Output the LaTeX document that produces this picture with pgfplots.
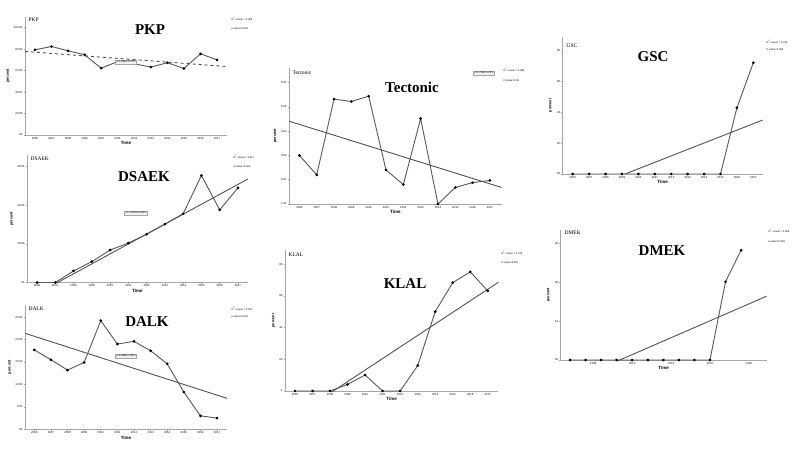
\documentclass[border=0pt]{standalone}
\usepackage{fontspec}
\setmainfont{Liberation Serif}
\setsansfont{Liberation Sans}
\usepackage{pgfplots}
\pgfplotsset{compat=1.18}

\pgfplotsset{
  panel/.style={
    scale only axis, anchor=south west,
    axis lines=left, axis line style={-, draw=gray!70, line width=0.9pt},
    tick align=outside, major tick length=1.3pt,
    tick style={draw=gray!70, line width=0.5pt},
    xtick={2006,...,2017},
    xticklabels={2006,2007,2008,2009,2010,2011,2012,2013,2014,2015,2016,2017},
    ticklabel style={font=\sffamily\fontsize{2.8}{3}\selectfont, inner sep=1pt},
    xlabel=Time, ylabel=percent,
    xlabel style={font=\sffamily\bfseries\fontsize{4.5}{5}\selectfont, inner sep=1pt},
    ylabel style={font=\sffamily\bfseries\fontsize{3.8}{4}\selectfont, inner sep=1pt, yshift=2pt},
  },
  dat/.style={draw=black!65, line width=0.9pt, mark=*, mark size=0.85pt,
    mark options={fill=black, draw=black}},
  fit/.style={draw=gray!65!black, line width=0.9pt, no marks},
}
\tikzset{
  ttl/.style={font=\bfseries\fontsize{15}{15}\selectfont},
  corner/.style={font=\fontsize{5.5}{6}\selectfont, anchor=west},
  stat/.style={font=\sffamily\fontsize{2.6}{3}\selectfont, anchor=west},
  eqbox/.style={font=\sffamily\fontsize{2.6}{3}\selectfont, draw=gray!70, fill=gray!10, inner sep=1pt},
}

\begin{document}
\begin{tikzpicture}
\useasboundingbox[fill=white] (0,0) rectangle (800pt,-449pt);

% ---------- PKP
\begin{axis}[panel, at={(25pt,-135pt)}, width=202pt, height=118pt,
  xmin=2005.4, xmax=2017.6, ymin=0, ymax=110,
  ytick={0,20,40,60,80,100}, yticklabels={.00,20.00,40.00,60.00,80.00,100.00}]
\addplot[dat] coordinates {(2006,79.4)(2007,82.5)(2008,78.5)(2009,74.8)(2010,62.3)(2011,68.5)
  (2012,66.4)(2013,63.3)(2014,67.4)(2015,62.0)(2016,75.7)(2017,70.0)};
\addplot[fit, dashed] coordinates {(2005.4,77.9)(2017.6,63.8)};
\end{axis}

% ---------- DSAEK
\begin{axis}[panel, at={(27pt,-282.5pt)}, width=221pt, height=127.5pt,
  xmin=2005.45, xmax=2017.55, ymin=0, ymax=33,
  ytick={0,10,20,30}, yticklabels={.00,10.00,20.00,30.00}]
\addplot[dat] coordinates {(2006,0)(2007,0)(2008,3.0)(2009,5.4)(2010,8.4)(2011,10.2)
  (2012,12.5)(2013,15.1)(2014,17.8)(2015,27.7)(2016,18.8)(2017,24.5)};
\addplot[fit] coordinates {(2005.45,-4.3)(2017.55,26.8)};
\end{axis}

% ---------- DALK
\begin{axis}[panel, at={(25pt,-429.3pt)}, width=202pt, height=124.3pt,
  xmin=2005.44, xmax=2017.6, ymin=0, ymax=27.7,
  ytick={0,5,10,15,20,25}, yticklabels={.00,5.00,10.00,15.00,20.00,25.00}]
\addplot[dat] coordinates {(2006,17.7)(2007,15.5)(2008,13.2)(2009,14.9)(2010,24.2)(2011,19.0)
  (2012,19.6)(2013,17.5)(2014,14.6)(2015,8.3)(2016,3.0)(2017,2.5)};
\addplot[fit] coordinates {(2005.44,21.4)(2017.6,6.9)};
\end{axis}

% ---------- Tectonic
\begin{axis}[panel, at={(289pt,-204pt)}, width=212.7pt, height=136pt,
  xmin=2005.4, xmax=2017.68, ymin=1, ymax=6.6,
  ytick={1,2,3,4,5,6}, yticklabels={1.00,2.00,3.00,4.00,5.00,6.00}]
\addplot[dat] coordinates {(2006,3.0)(2007,2.2)(2008,5.32)(2009,5.22)(2010,5.44)(2011,2.4)
  (2012,1.8)(2013,4.52)(2014,1.0)(2015,1.68)(2016,1.88)(2017,1.97)};
\addplot[fit] coordinates {(2005.4,4.41)(2017.68,1.68)};
\end{axis}

% ---------- KLAL
\begin{axis}[panel, at={(285pt,-391pt)}, width=213.3pt, height=141pt,
  xmin=2005.43, xmax=2017.6, ymin=0, ymax=89,
  ytick={0,20,40,60,80}, yticklabels={0,20,40,60,80}]
\addplot[dat] coordinates {(2006,0)(2007,0)(2008,0)(2009,4.2)(2010,10.1)(2011,0)
  (2012,0)(2013,16.0)(2014,50.1)(2015,68.4)(2016,75.2)(2017,63.2)};
\addplot[fit] coordinates {(2005.43,-20.1)(2017.6,68.6)};
\end{axis}

% ---------- GSC
\begin{axis}[panel, at={(562.7pt,-174pt)}, width=200pt, height=137.3pt,
  xmin=2005.39, xmax=2017.57, ymin=0, ymax=89.3,
  ytick={0,20,40,60,80}, yticklabels={.00,20,40,60,80}]
\addplot[dat] coordinates {(2006,0)(2007,0)(2008,0)(2009,0)(2010,0)(2011,0)
  (2012,0)(2013,0)(2014,0)(2015,0)(2016,43.1)(2017,72.4)};
\addplot[fit] coordinates {(2005.39,-15.9)(2017.57,35.1)};
\end{axis}

% ---------- DMEK
\begin{axis}[panel, at={(560.7pt,-360pt)}, width=206pt, height=130pt,
  xmin=2005.4, xmax=2018.65, ymin=0, ymax=33.4,
  xtick={2007.5,2010,2012.5,2015,2017.5}, xticklabels={2008,2010,2013,2015,2018},
  ytick={0,10,20,30}, yticklabels={.00,10,20,30}]
\addplot[dat] coordinates {(2006,0)(2007,0)(2008,0)(2009,0)(2010,0)(2011,0)
  (2012,0)(2013,0)(2014,0)(2015,0)(2016,20.1)(2017,28.2)};
\addplot[fit] coordinates {(2005.4,-6.6)(2018.65,16.4)};
\end{axis}

% titles, corner names, statistics
\node[ttl] at (150pt,-30pt) {PKP};
\node[ttl] at (144pt,-177pt) {DSAEK};
\node[ttl] at (147pt,-322pt) {DALK};
\node[ttl] at (412pt,-87pt) {Tectonic};
\node[ttl] at (405pt,-284pt) {KLAL};
\node[ttl] at (653pt,-57pt) {GSC};
\node[ttl] at (662pt,-251pt) {DMEK};

\node[corner] at (25pt,-20pt) {PKP};
\node[corner] at (27pt,-159pt) {DSAEK};
\node[corner] at (25pt,-309pt) {DALK};
\node[corner] at (289pt,-72.7pt) {Tectonic};
\node[corner] at (285pt,-255pt) {KLAL};
\node[corner] at (563pt,-46pt) {GSC};
\node[corner] at (561pt,-233pt) {DMEK};

\node[stat] at (228pt,-19pt) {R\textsuperscript{2} Linear = 0.358};
\node[stat] at (228pt,-29pt) {p-value=0.040};
\node[stat] at (230pt,-157pt) {R\textsuperscript{2} Linear = 0.817};
\node[stat] at (230pt,-167pt) {P-value<0.001};
\node[stat] at (228pt,-309pt) {R\textsuperscript{2} Linear = 0.413};
\node[stat] at (228pt,-317pt) {p-value=0.024};
\node[stat] at (500pt,-70pt) {R\textsuperscript{2} Linear = 0.288};
\node[stat] at (500pt,-81pt) {P-value=0.05};
\node[stat] at (498pt,-253pt) {R\textsuperscript{2} Linear = 0.745};
\node[stat] at (498pt,-263pt) {P-value=0.001};
\node[stat] at (763pt,-42pt) {R\textsuperscript{2} Linear = 0.410};
\node[stat] at (763pt,-50pt) {P-value=0.025};
\node[stat] at (765pt,-231pt) {R\textsuperscript{2} Linear = 0.429};
\node[stat] at (765pt,-242pt) {p-value=0.020};

\node[eqbox] at (126pt,-62pt) {y=1.66E3-0.79*x};
\node[eqbox] at (136pt,-213pt) {y=-4.97E3+2.48*x};
\node[eqbox] at (126pt,-356pt) {y=2.95E3-1.46*x};
\node[eqbox] at (484pt,-73pt) {y=4.73E2-0.23*x};
\end{tikzpicture}
\end{document}
